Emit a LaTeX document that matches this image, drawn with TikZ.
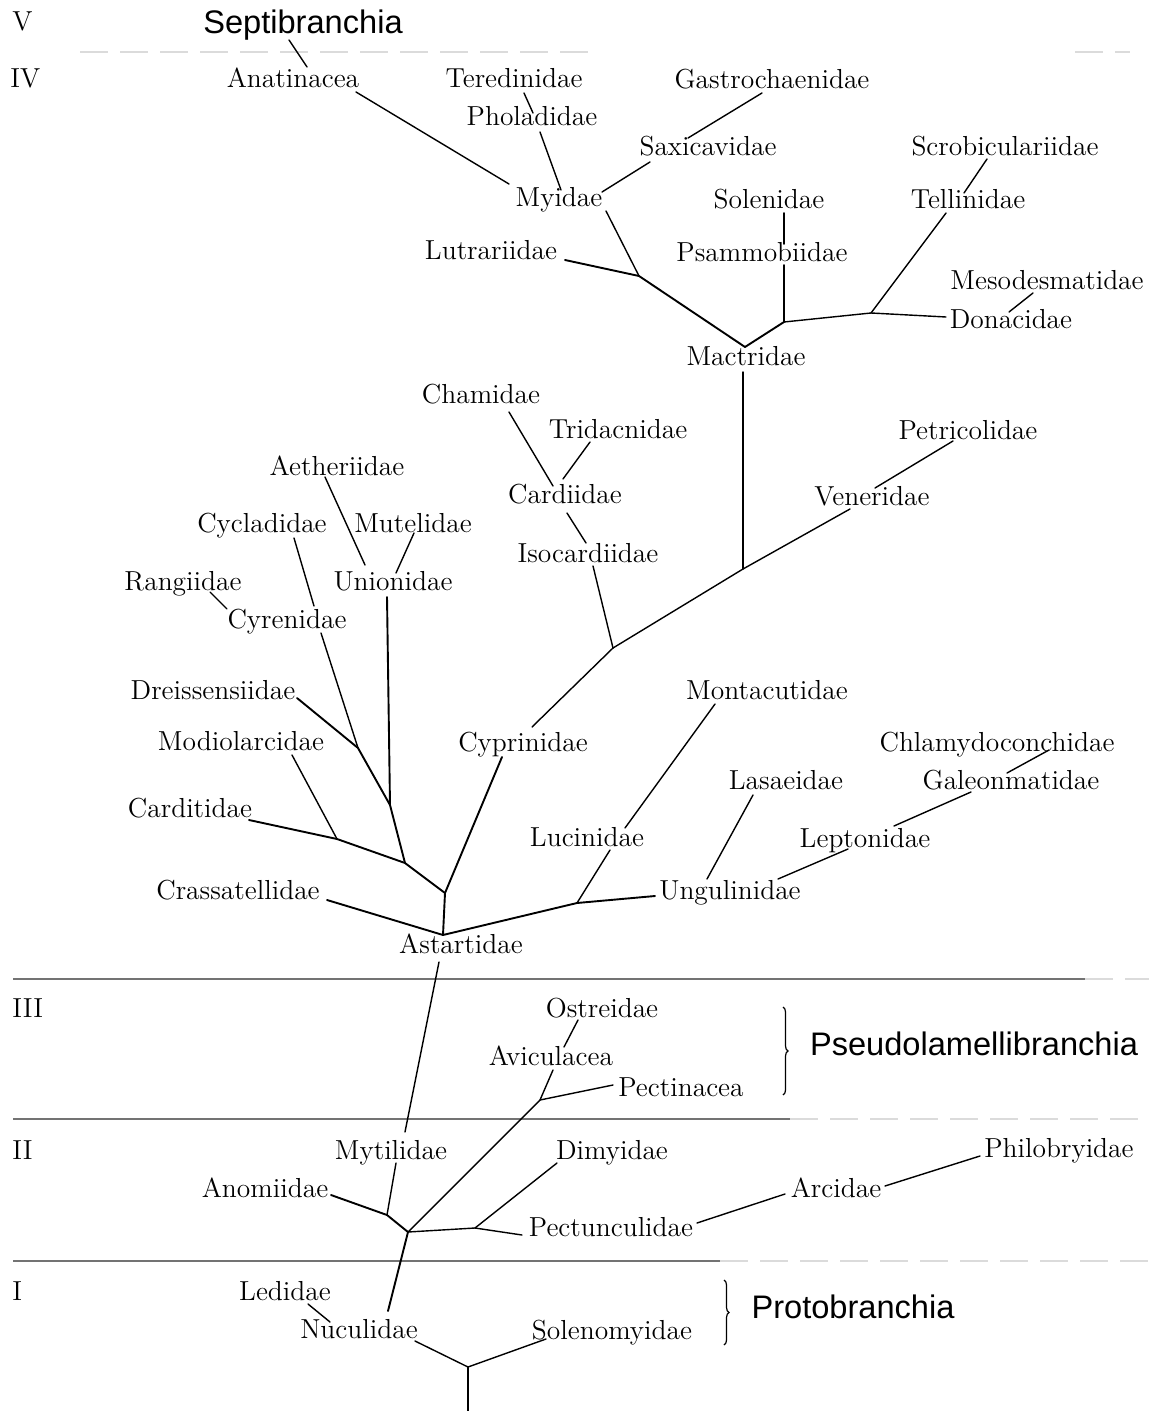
\documentclass[tikz,border=0pt]{standalone}
\usepackage{fontspec}
\newfontfamily\grpfam{Liberation Sans}
\usetikzlibrary{calc,decorations.pathreplacing}
\newcommand\lblfnt{\fontsize{13.75}{16}\selectfont}
\newcommand\grpfnt{\grpfam\fontsize{16.3}{19}\selectfont}
\begin{document}
\begin{tikzpicture}[x=0.5pt,y=-0.5pt,
  lbl/.style={font=\lblfnt, inner sep=0pt, text height=0.9em, text depth=0pt},
  grp/.style={font=\grpfnt, inner sep=0pt, text height=0.96em, text depth=0pt},
  num/.style={lbl, anchor=west},
  br/.style={line width=0.7pt, line cap=round, line join=round},
  thk/.style={line width=0.95pt, line cap=round, line join=round},
  sepline/.style={black!55, line width=0.8pt},
  faint/.style={black!14, line width=0.8pt, dash pattern=on 14pt off 6pt},
  brc/.style={decorate, decoration={brace, amplitude=2.5pt}, line width=0.6pt}]
\fill[white] (0,0) rectangle (1149,1411);
\useasboundingbox (0,0) rectangle (1149,1411);

% ---- level numerals
\node[num] (nV) at (12,22) {V};
\node[num] (nIV) at (10,79) {IV};
\node[num] (nIII) at (12,1008) {III};
\node[num] (nII) at (12,1150) {II};
\node[num] (nI) at (12,1291) {I};

% ---- group names
\node[grp] (sep) at (303,24) {Septibranchia};
\node[grp] (pse) at (974,1046) {Pseudolamellibranchia};
\node[grp] (pro) at (853,1309) {Protobranchia};

% ---- separators
\draw[faint] (80,52) -- (590,52);
\draw[faint] (1075,52) -- (1130,52);
\draw[sepline] (13,979) -- (1085,979);
\draw[faint] (1085,979) -- (1149,979);
\draw[sepline] (13,1119) -- (790,1119);
\draw[faint] (790,1119) -- (1149,1119);
\draw[sepline] (13,1261) -- (720,1261);
\draw[faint] (720,1261) -- (1149,1261);

% ---- family labels
\node[lbl] (ana) at (293,79) {Anatinacea};
\node[lbl] (ter) at (514,79) {Teredinidae};
\node[lbl] (pho) at (532,117) {Pholadidae};
\node[lbl] (gas) at (772,80) {Gastrochaenidae};
\node[lbl] (sax) at (708,147) {Saxicavidae};
\node[lbl] (scr) at (1005,147) {Scrobiculariidae};
\node[lbl] (myi) at (559,198) {Myidae};
\node[lbl] (sol) at (769,200) {Solenidae};
\node[lbl] (tel) at (968,200) {Tellinidae};
\node[lbl] (lut) at (491,251) {Lutrariidae};
\node[lbl] (psa) at (762,253) {Psammobiidae};
\node[lbl] (mes) at (1047,281) {Mesodesmatidae};
\node[lbl] (don) at (1011,320) {Donacidae};
\node[lbl] (mac) at (746,357) {Mactridae};
\node[lbl] (cha) at (481,395) {Chamidae};
\node[lbl] (tri) at (618,429) {Tridacnidae};
\node[lbl] (pet) at (968,430) {Petricolidae};
\node[lbl] (aet) at (337,466) {Aetheriidae};
\node[lbl] (car) at (565,494) {Cardiidae};
\node[lbl] (ven) at (872,496) {Veneridae};
\node[lbl] (cyc) at (262,523) {Cycladidae};
\node[lbl] (mut) at (413,523) {Mutelidae};
\node[lbl] (iso) at (588,553) {Isocardiidae};
\node[lbl] (ran) at (183,581) {Rangiidae};
\node[lbl] (uni) at (393,581) {Unionidae};
\node[lbl] (cyr) at (287,619) {Cyrenidae};
\node[lbl] (dre) at (213,690) {Dreissensiidae};
\node[lbl] (mon) at (767,690) {Montacutidae};
\node[lbl] (mod) at (241,741) {Modiolarcidae};
\node[lbl] (cyp) at (523,742) {Cyprinidae};
\node[lbl] (chl) at (997,742) {Chlamydoconchidae};
\node[lbl] (las) at (786,780) {Lasaeidae};
\node[lbl] (gal) at (1011,780) {Galeonmatidae};
\node[lbl] (cdt) at (190,808) {Carditidae};
\node[lbl] (luc) at (587,837) {Lucinidae};
\node[lbl] (lep) at (865,838) {Leptonidae};
\node[lbl] (cra) at (238,890) {Crassatellidae};
\node[lbl] (ung) at (730,890) {Ungulinidae};
\node[lbl] (ast) at (461,944) {Astartidae};
\node[lbl] (ost) at (602,1008) {Ostreidae};
\node[lbl] (avi) at (551,1056) {Aviculacea};
\node[lbl] (pec) at (681,1087) {Pectinacea};
\node[lbl] (myt) at (391,1150) {Mytilidae};
\node[lbl] (dim) at (612,1150) {Dimyidae};
\node[lbl] (phi) at (1059,1148) {Philobryidae};
\node[lbl] (ano) at (265,1188) {Anomiidae};
\node[lbl] (arc) at (836,1188) {Arcidae};
\node[lbl] (pcu) at (611,1227) {Pectunculidae};
\node[lbl] (led) at (285,1291) {Ledidae};
\node[lbl] (nuc) at (359,1329) {Nuculidae};
\node[lbl] (soe) at (612,1330) {Solenomyidae};

% ---- junctions
\coordinate (j1) at (639,276);
\coordinate (j2) at (745,347);
\coordinate (j3) at (784,322);
\coordinate (j4) at (871,313);
\coordinate (j5) at (743,569);
\coordinate (j6) at (613,648);
\coordinate (j7) at (445,893);
\coordinate (j8) at (390,805);
\coordinate (j9) at (358,748);
\coordinate (j10) at (405,863);
\coordinate (j11) at (337,839);
\coordinate (j12) at (577,903);
\coordinate (j13) at (387,1215);
\coordinate (j14) at (408,1232);
\coordinate (j15) at (540,1100);
\coordinate (j16) at (475,1228);
\coordinate (j17) at (468,1367);
\coordinate (bot) at (468,1411);
\coordinate (ja) at ($(ast)+(-18,-9)$);

% ---- upper part (IV)
\draw[br] ($(sep)+(-14,16)$) -- ($(ana)+(14,-12)$);
\draw[br] ($(ana)+(63,13)$) -- ($(myi)+(-50,-14)$);
\draw[br] ($(ter)+(10,14)$) -- ($(pho)+(1,-4)$);
\draw[br] ($(pho)+(8,15)$) -- ($(myi)+(2,-8)$);
\draw[br] ($(gas)+(-10,13)$) -- ($(sax)+(-20,-9)$);
\draw[br] ($(sax)+(-58,15)$) -- ($(myi)+(43,-6)$);
\draw[br] ($(myi)+(47,13)$) -- (j1);
\draw[thk] ($(lut)+(74,9)$) -- (j1) -- (j2) -- (j3);
\draw[thk] ($(sol)+(15,13)$) -- ($(psa)+(22,-9)$);
\draw[thk] ($(psa)+(22,12)$) -- (j3);
\draw[br] (j3) -- (j4) -- ($(don)+(-65,-3)$);
\draw[br] (j4) -- ($(tel)+(-22,13)$);
\draw[br] ($(scr)+(-18,12)$) -- ($(tel)+(-4,-7)$);
\draw[br] ($(mes)+(-14,12)$) -- ($(don)+(-2,-8)$);
\draw[br] ($(mac)+(-3,15)$) -- (j5);

% ---- middle
\draw[br] (j6) -- (j5) -- ($(ven)+(-22,13)$);
\draw[br] ($(pet)+(-15,11)$) -- ($(ven)+(3,-8)$);
\draw[br] ($(iso)+(5,13)$) -- (j6);
\draw[br] ($(car)+(2,19)$) -- ($(iso)+(-2,-10)$);
\draw[br] ($(cha)+(28,17)$) -- ($(car)+(-12,-8)$);
\draw[br] ($(tri)+(-28,13)$) -- ($(car)+(-2,-15)$);
\draw[br] (j6) -- ($(cyp)+(9,-15)$);
\draw[thk] ($(cyp)+(-21,15)$) -- (j7);

\draw[br] ($(aet)+(-12,11)$) -- ($(uni)+(-28,-16)$);
\draw[br] ($(mut)+(1,10)$) -- ($(uni)+(3,-8)$);
\draw[thk] ($(uni)+(-6,16)$) -- (j8);
\draw[br] ($(cyc)+(32,15)$) -- ($(cyr)+(27,-13)$);
\draw[br] ($(ran)+(27,11)$) -- ($(cyr)+(-60,-10)$);
\draw[br] ($(cyr)+(34,14)$) -- (j9);
\draw[thk] ($(dre)+(84,8)$) -- (j9) -- (j8) -- (j10);
\draw[thk] ($(cdt)+(59,12)$) -- (j11) -- (j10) -- (j7) -- (ja);
\draw[br] ($(mod)+(51,14)$) -- (j11);
\draw[thk] ($(cra)+(89,10)$) -- (ja);
\draw[thk] (ja) -- (j12) -- ($(ung)+(-75,6)$);
\draw[br] (j12) -- ($(luc)+(23,13)$);
\draw[br] ($(mon)+(-52,14)$) -- ($(luc)+(38,-9)$);
\draw[br] ($(las)+(-33,15)$) -- ($(ung)+(-23,-11)$);
\draw[br] ($(ung)+(48,-11)$) -- ($(lep)+(-17,11)$);
\draw[br] ($(lep)+(29,-12)$) -- ($(gal)+(-40,12)$);
\draw[br] ($(chl)+(52,8)$) -- ($(gal)+(-4,-7)$);

% ---- lower levels
\draw[br] ($(ast)+(-22,18)$) -- ($(myt)+(14,-18)$);
\draw[br] ($(myt)+(5,13)$) -- (j13);
\draw[thk] ($(ano)+(66,7)$) -- (j13) -- (j14) -- ($(nuc)+(29,-18)$);
\draw[br] (j14) -- (j15) -- ($(avi)+(2,14)$);
\draw[br] (j15) -- ($(pec)+(-68,-2)$);
\draw[br] ($(ost)+(-24,12)$) -- ($(avi)+(13,-9)$);
\draw[br] (j14) -- (j16) -- ($(dim)+(-55,13)$);
\draw[br] (j16) -- ($(pcu)+(-89,8)$);
\draw[br] ($(pcu)+(86,-4)$) -- ($(arc)+(-51,6)$);
\draw[br] ($(arc)+(49,-2)$) -- ($(phi)+(-79,8)$);
\draw[br] ($(led)+(23,13)$) -- ($(nuc)+(-29,-7)$);
\draw[br] ($(nuc)+(56,12)$) -- (j17);
\draw[br] ($(soe)+(-66,9)$) -- (j17);
\draw[br] (j17) -- (bot);

% ---- braces
\draw[brc] (783,1007) -- (783,1095);
\draw[brc] (724,1280) -- (724,1345);
\end{tikzpicture}
\end{document}
